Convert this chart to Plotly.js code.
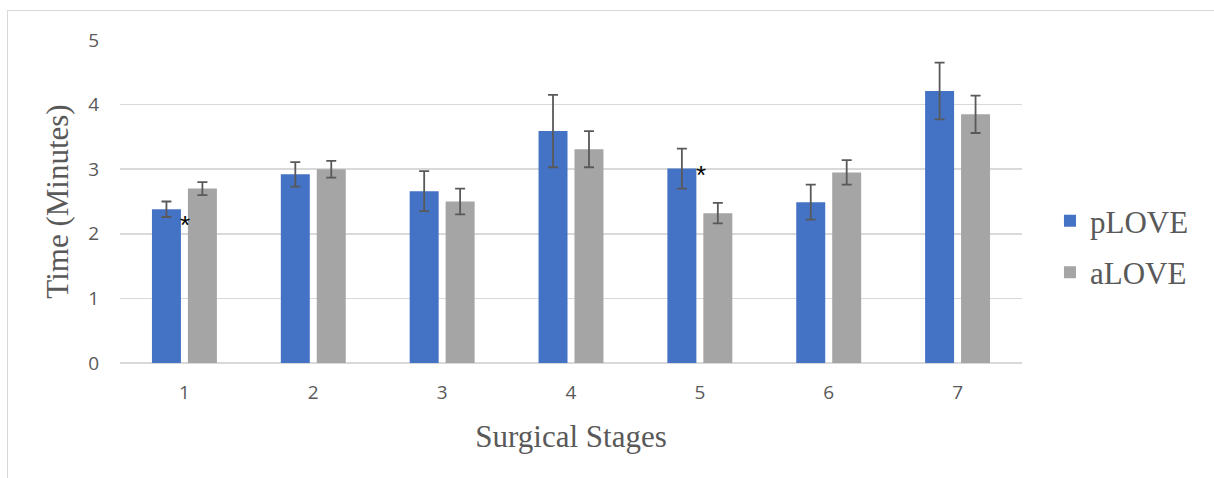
<!DOCTYPE html>
<html>
<head>
<meta charset="utf-8">
<script src="https://cdn.plot.ly/plotly-3.0.1.min.js"></script>
<style>
html,body{margin:0;padding:0;background:#fff;}
#chart{width:1214px;height:478px;}
#frame{position:absolute;left:7px;top:10px;width:1220px;height:480px;border:1px solid #d9d9d9;pointer-events:none;}
</style>
</head>
<body>
<div id="chart"></div>
<div id="frame"></div>
<script>
const stages = ['1','2','3','4','5','6','7'];
const pLOVE = [2.38, 2.92, 2.66, 3.59, 3.01, 2.49, 4.21];
const pLOVEErr = [0.12, 0.19, 0.31, 0.56, 0.31, 0.27, 0.44];
const aLOVE = [2.70, 3.00, 2.50, 3.31, 2.32, 2.95, 3.85];
const aLOVEErr = [0.10, 0.13, 0.20, 0.28, 0.16, 0.19, 0.29];
const starStages = ['1','5'];
const starLevels = [2.22, 2.99];
const yTicks = [0,1,2,3,4,5];

const serif = 'Liberation Serif, Times New Roman, serif';
const sans = 'Open Sans, Liberation Sans, sans-serif';
const errStyle = {type:'data', visible:true, color:'#595959', thickness:1.8, width:5};

const traces = [
  {type:'bar', name:'pLOVE', x:stages, y:pLOVE, legendgroup:'p',
   marker:{color:'#4472C4'},
   error_y:Object.assign({array:pLOVEErr}, errStyle)},
  {type:'bar', name:'aLOVE', x:stages, y:aLOVE, legendgroup:'a',
   marker:{color:'#A5A5A5'},
   error_y:Object.assign({array:aLOVEErr}, errStyle)}
];

const annotations = starStages.map((s, i) => ({
  x:stages.indexOf(s), y:starLevels[i], xref:'x', yref:'y', text:'*', showarrow:false,
  xshift:1, yshift:-5, font:{family:'Liberation Sans, Arial', size:26, color:'#000'},
  xanchor:'center', yanchor:'middle'
}));

const layout = {
  width:1214, height:478,
  margin:{l:120, r:192, t:40, b:115},
  paper_bgcolor:'#fff', plot_bgcolor:'#fff',
  barmode:'group', bargap:0.442, bargroupgap:0.194,
  showlegend:true,
  legend:{x:1.031, y:0.36, yanchor:'middle', xanchor:'left',
    font:{family:serif, size:31, color:'#595959'},
    tracegroupgap:8, traceorder:'grouped', itemwidth:30},
  xaxis:{
    type:'category', tickvals:stages, ticktext:stages,
    showgrid:false, showline:false, ticks:'', zeroline:false,
    tickfont:{family:sans, size:19, color:'#595959'},
    ticklabelstandoff:16,
    title:{text:'Surgical Stages', standoff:21,
      font:{family:serif, size:31, color:'#595959'}}
  },
  yaxis:{
    range:[0,5], tickvals:yTicks, ticktext:yTicks.map(String),
    showgrid:true, gridcolor:'#d9d9d9', gridwidth:1.5,
    zeroline:true, zerolinecolor:'#d9d9d9', zerolinewidth:1.5,
    showline:false, ticks:'',
    tickfont:{family:sans, size:19, color:'#595959'},
    ticklabelstandoff:20,
    title:{text:'Time (Minutes)', standoff:10,
      font:{family:serif, size:31, color:'#595959'}}
  },
  annotations:annotations
};

Plotly.newPlot('chart', traces, layout, {displayModeBar:false, staticPlot:true});
</script>
</body>
</html>
